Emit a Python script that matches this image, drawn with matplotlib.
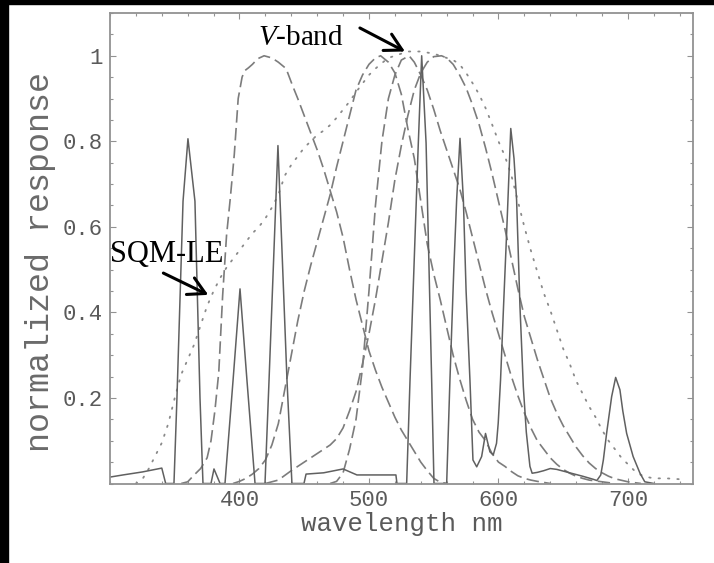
import matplotlib
matplotlib.use("Agg")
import matplotlib.pyplot as plt
from matplotlib.patches import Rectangle
from matplotlib.ticker import MultipleLocator, FixedLocator

plt.rcParams["mathtext.fontset"] = "custom"
plt.rcParams["mathtext.rm"] = "Liberation Serif"
plt.rcParams["mathtext.it"] = "Liberation Serif:italic"

# ---- lamp emission spectrum (solid) ----
lamp_wl = [300, 310, 325, 340, 343, 349.4, 351.7, 356.4, 360.2, 365.6, 369.5, 371.8,
           378, 380.3, 385, 388.8, 395, 400.4, 405.8, 412,
           419.7, 422.8, 429.7, 436.7, 440.5, 449.8, 451.4, 465, 480, 490.7, 520.8, 521.6,
           529.1, 531.7, 538.1, 540.7, 544.1, 548.4, 550.2,
           560, 562.5, 565.5, 567.7, 570.3, 572.9, 575, 578, 580.3, 583.2, 587, 590, 593.4,
           596, 598.5, 599.8, 601.6, 604, 606.3, 609.5, 612, 614, 616.6, 619.2, 621.5,
           624.3, 626, 630, 635, 640, 645, 655, 665, 673, 676, 679, 681, 683.5, 687.4,
           690.5, 693.8, 696, 699, 704, 709.3, 713, 720]
lamp_resp = [0.015, 0.02, 0.027, 0.036, 0.0, 0.0, 0.2, 0.66, 0.806, 0.66, 0.2, 0.0,
             0.0, 0.034, 0.0, 0.0, 0.24, 0.455, 0.24, 0.0,
             0.0, 0.24, 0.79, 0.24, 0.0, 0.0, 0.022, 0.025, 0.034, 0.02, 0.02, 0.0,
             0.0, 0.242, 0.796, 1.0, 0.796, 0.242, 0.0,
             0.0, 0.24, 0.5, 0.663, 0.807, 0.663, 0.45, 0.24, 0.055, 0.039, 0.063, 0.117, 0.074,
             0.067, 0.094, 0.141, 0.242, 0.42, 0.585, 0.83, 0.76, 0.663, 0.414, 0.226, 0.12,
             0.04, 0.024, 0.026, 0.03, 0.035, 0.033, 0.025, 0.017, 0.01, 0.007, 0.02, 0.055, 0.117, 0.203,
             0.248, 0.219, 0.17, 0.117, 0.063, 0.024, 0.004, 0.0]

# ---- blue-peaked band (dashed) ----
b_wl = [355, 360, 365, 370, 375, 378, 381, 384, 387, 390, 393, 396, 399, 402, 404, 407,
        410, 414, 419, 425, 430, 436, 441, 445, 450, 455, 460, 465, 470, 475, 480, 485,
        490, 495, 500, 505, 510, 515, 520, 525, 530, 535, 540, 545, 550, 555, 560]
b_resp = [0.0, 0.004, 0.02, 0.035, 0.06, 0.10, 0.17, 0.26, 0.44, 0.58, 0.67, 0.77, 0.90, 0.95,
          0.965, 0.972, 0.98, 0.993, 1.0, 0.995, 0.985, 0.97, 0.93, 0.90, 0.86, 0.82, 0.78,
          0.735, 0.685, 0.635, 0.575, 0.50, 0.43, 0.37, 0.31, 0.265, 0.225, 0.19, 0.155,
          0.125, 0.10, 0.075, 0.05, 0.03, 0.012, 0.003, 0.0]

# ---- scotopic curve (dashed) ----
scot_wl = [395, 400, 405, 410, 415, 420, 425, 430, 435, 440, 445, 450, 455, 460, 465, 470,
           475, 480, 485, 490, 495, 500, 505, 509, 515, 520, 525, 530, 535, 540, 545, 550,
           555, 560, 565, 570, 575, 580, 585, 590, 595, 600, 605, 610, 615, 620, 625, 630, 640]
scot_resp = [0.0, 0.005, 0.012, 0.022, 0.035, 0.055, 0.09, 0.14, 0.22, 0.30, 0.38, 0.45,
             0.51, 0.565, 0.62, 0.675, 0.74, 0.80, 0.86, 0.92, 0.955, 0.98, 0.995, 1.0,
             0.985, 0.96, 0.91, 0.83, 0.76, 0.66, 0.56, 0.49, 0.43, 0.365, 0.30, 0.245,
             0.195, 0.15, 0.12, 0.10, 0.07, 0.05, 0.04, 0.028, 0.018, 0.012, 0.008, 0.005, 0.0]

# ---- V band (dashed) ----
v_wl = [470, 475, 480, 485, 490, 495, 500, 505, 510, 515, 520, 525, 531, 535, 540, 545,
        550, 555, 560, 565, 570, 575, 580, 585, 590, 595, 600, 605, 610, 615, 620, 625,
        630, 635, 640, 645, 650, 655, 660, 665, 670, 680, 690]
v_resp = [0.0, 0.005, 0.025, 0.08, 0.15, 0.27, 0.45, 0.65, 0.80, 0.90, 0.955, 0.99, 1.0,
          0.985, 0.955, 0.92, 0.875, 0.825, 0.78, 0.735, 0.69, 0.635, 0.575, 0.515, 0.455,
          0.40, 0.35, 0.30, 0.25, 0.205, 0.165, 0.13, 0.10, 0.08, 0.06, 0.045, 0.033,
          0.024, 0.017, 0.012, 0.008, 0.004, 0.0]

# ---- photopic curve (dashed) ----
phot_wl = [420, 430, 440, 450, 460, 470, 475, 480, 485, 490, 495, 500, 505, 510, 515, 520,
           525, 530, 535, 540, 545, 550, 556, 560, 565, 570, 575, 580, 585, 590, 595, 600,
           605, 610, 615, 620, 625, 630, 635, 640, 645, 650, 655, 660, 665, 670, 675, 680,
           685, 690, 700, 710]
phot_resp = [0.0, 0.008, 0.03, 0.05, 0.07, 0.09, 0.105, 0.13, 0.17, 0.215, 0.28, 0.35, 0.43,
             0.52, 0.61, 0.71, 0.79, 0.86, 0.92, 0.96, 0.985, 0.998, 1.0, 0.995, 0.98, 0.955,
             0.925, 0.885, 0.84, 0.785, 0.725, 0.66, 0.595, 0.525, 0.455, 0.39, 0.34, 0.29,
             0.245, 0.20, 0.165, 0.135, 0.11, 0.085, 0.065, 0.048, 0.035, 0.025, 0.017, 0.011,
             0.004, 0.0]

# ---- SQM-LE response (dotted) ----
sqm_wl = [320, 325, 330, 335, 340, 345, 350, 355, 360, 365, 370, 375, 380, 385, 390, 395,
          400, 405, 410, 415, 420, 425, 430, 435, 440, 445, 450, 455, 460, 465, 470, 475,
          480, 485, 490, 495, 500, 505, 510, 515, 520, 530, 540, 550, 555, 560, 565, 570,
          575, 580, 585, 590, 595, 600, 605, 610, 615, 620, 625, 630, 635, 640, 645, 650,
          655, 660, 665, 670, 675, 680, 685, 690, 695, 700, 705, 710, 715, 720, 730, 740]
sqm_resp = [0.0, 0.01, 0.035, 0.065, 0.095, 0.14, 0.2, 0.255, 0.29, 0.325, 0.37, 0.415,
            0.45, 0.48, 0.505, 0.525, 0.545, 0.565, 0.585, 0.60, 0.62, 0.645, 0.675, 0.72,
            0.745, 0.765, 0.785, 0.80, 0.815, 0.825, 0.838, 0.855, 0.874, 0.893, 0.915,
            0.935, 0.955, 0.97, 0.983, 0.995, 1.0, 1.01, 1.01, 1.005, 1.0, 0.995, 0.99,
            0.98, 0.96, 0.936, 0.91, 0.878, 0.84, 0.80, 0.765, 0.72, 0.66, 0.60, 0.545,
            0.495, 0.445, 0.405, 0.36, 0.315, 0.28, 0.24, 0.21, 0.18, 0.155, 0.125, 0.10,
            0.08, 0.06, 0.045, 0.03, 0.02, 0.015, 0.012, 0.012, 0.01]

x_major = [400, 500, 600, 700]
y_major = [0.2, 0.4, 0.6, 0.8, 1.0]
y_major_labels = ["0.2", "0.4", "0.6", "0.8", "1"]

DPI = 100
fig = plt.figure(figsize=(7.14, 5.63), dpi=DPI)
fig.patch.set_facecolor("white")
ax = fig.add_axes([110 / 714, 1 - 483.5 / 563, 582.7 / 714, 470.5 / 563])

dash_kw = dict(color="#7c7c7c", lw=1.2, dashes=(7.5, 3.2))
ax.plot(sqm_wl, sqm_resp, color="#8a8a8a", lw=1.3, linestyle=(0, (0.8, 4.4)),
        dash_capstyle="round")
ax.plot(b_wl, b_resp, **dash_kw)
ax.plot(scot_wl, scot_resp, **dash_kw)
ax.plot(v_wl, v_resp, **dash_kw)
ax.plot(phot_wl, phot_resp, **dash_kw)
ax.plot(lamp_wl, lamp_resp, color="#606060", lw=1.1)

ax.set_xlim(300, 750)
ax.set_ylim(0, 1.1)

frame_col = "#929292"
for s in ax.spines.values():
    s.set_color(frame_col)
    s.set_linewidth(1.3)

ax.xaxis.set_major_locator(FixedLocator(x_major))
ax.xaxis.set_minor_locator(MultipleLocator(20))
ax.yaxis.set_major_locator(FixedLocator(y_major))
ax.yaxis.set_minor_locator(MultipleLocator(0.05))
ax.set_yticklabels(y_major_labels)
ax.tick_params(which="both", direction="in", top=True, right=True,
               color=frame_col, width=0.8)
ax.tick_params(which="major", length=4.5, pad=5, labelsize=16,
               labelcolor="#5a5a5a")
ax.tick_params(which="minor", length=2.5)
for lab in ax.get_xticklabels() + ax.get_yticklabels():
    lab.set_family("Liberation Mono")

ax.set_xlabel("wavelength nm", family="Liberation Mono", fontsize=18.5, color="#5a5a5a")
ax.xaxis.set_label_coords((402 - 110) / 582.7, (483.5 - 524) / 470.5)
ax.xaxis.label.set_verticalalignment("center")
ax.set_ylabel("normalized response", family="Liberation Mono", fontsize=24, color="#6a6a6a")
ax.yaxis.set_label_coords((41 - 110) / 582.7, (483.5 - 262) / 470.5)
ax.yaxis.label.set_verticalalignment("center")

# annotations
ax.text(414.3, 1.026, r"$V$-band", family="Liberation Serif", fontsize=21,
        ha="left", va="baseline", color="black")
ax.annotate("", xy=(527.8, 1.01), xytext=(493, 1.065),
            arrowprops=dict(arrowstyle="->,head_length=0.4,head_width=0.22",
                            color="black", lw=2.2, mutation_scale=30,
                            shrinkA=0, shrinkB=0))
ax.text(300, 0.518, "SQM-LE", family="Liberation Serif", fontsize=22,
        ha="left", va="baseline", color="black")
ax.annotate("", xy=(375.9, 0.441), xytext=(341.2, 0.492),
            arrowprops=dict(arrowstyle="->,head_length=0.4,head_width=0.22",
                            color="black", lw=2.2, mutation_scale=30,
                            shrinkA=0, shrinkB=0))

# dark border strips along the left and top edges
fig.patches.append(Rectangle((0, 0), 8 / 714, 1, transform=fig.transFigure,
                             color="black", zorder=10))
fig.patches.append(Rectangle((0, 1 - 4 / 563), 1, 4 / 563, transform=fig.transFigure,
                             color="black", zorder=10))

fig.savefig("out.png", dpi=DPI)
